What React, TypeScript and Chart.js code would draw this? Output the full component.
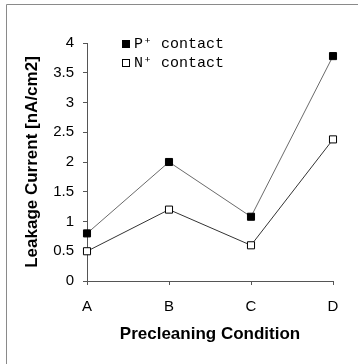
import React, { useEffect, useRef } from "react";
import { Chart, registerables } from "chart.js";

Chart.register(...registerables);

const categories = ["A", "B", "C", "D"];
const pContact = [0.8, 2.0, 1.08, 3.78];
const nContact = [0.5, 1.2, 0.6, 2.38];
const seriesLabels = ["P\u207A contact", "N\u207A contact"];
const yMin = 0;
const yMax = 4;
const yStep = 0.5;
const xTitle = "Precleaning Condition";
const yTitle = "Leakage Current [nA/cm2]";

const framePlugin = {
  id: "frame",
  beforeDraw(chart: any) {
    const ctx = chart.ctx;
    ctx.save();
    ctx.strokeStyle = "#8a8a8a";
    ctx.lineWidth = 1;
    ctx.beginPath();
    ctx.moveTo(6.5, 364);
    ctx.lineTo(6.5, 4.5);
    ctx.lineTo(358, 4.5);
    ctx.stroke();
    ctx.restore();
  },
};

const legendPlugin = {
  id: "insideLegend",
  afterDraw(chart: any) {
    const ctx = chart.ctx;
    ctx.save();
    ctx.font = "15px 'Liberation Mono', 'DejaVu Sans Mono', monospace";
    ctx.textBaseline = "middle";
    ctx.textAlign = "left";
    chart.data.datasets.forEach((ds: any, i: number) => {
      const cy = 44 + i * 19;
      ctx.fillStyle = ds.pointBackgroundColor;
      ctx.strokeStyle = "#000";
      ctx.lineWidth = 1;
      ctx.fillRect(122.5, cy - 3.5, 7, 7);
      ctx.strokeRect(122.5, cy - 3.5, 7, 7);
      ctx.fillStyle = "#000";
      ctx.fillText(ds.label, 134, cy);
    });
    ctx.restore();
  },
};

export default function App() {
  const ref = useRef<HTMLCanvasElement | null>(null);

  useEffect(() => {
    if (!ref.current) return;
    const chart = new Chart(ref.current, {
      type: "line",
      data: {
        labels: categories,
        datasets: [
          {
            label: seriesLabels[0],
            data: pContact,
            borderColor: "#6a6a6a",
            borderWidth: 1,
            pointStyle: "rect",
            pointRadius: 5,
            pointBorderWidth: 1,
            pointBackgroundColor: "#000",
            pointBorderColor: "#000",
            tension: 0,
          },
          {
            label: seriesLabels[1],
            data: nContact,
            borderColor: "#333",
            borderWidth: 1,
            pointStyle: "rect",
            pointRadius: 5,
            pointBorderWidth: 1,
            pointBackgroundColor: "#fff",
            pointBorderColor: "#000",
            tension: 0,
          },
        ],
      },
      options: {
        animation: false,
        responsive: false,
        maintainAspectRatio: false,
        layout: { padding: { top: 43, right: 25, left: 0, bottom: 0 } },
        plugins: {
          legend: { display: false },
          tooltip: { enabled: false },
        },
        scales: {
          x: {
            offset: false,
            grid: {
              drawOnChartArea: false,
              drawTicks: true,
              tickLength: 4,
              color: "#555",
            },
            border: { display: true, color: "#555" },
            ticks: {
              color: "#000",
              padding: 13,
              font: { family: "'Liberation Sans', Arial, sans-serif", size: 15 },
            },
            title: {
              display: true,
              text: xTitle,
              color: "#000",
              padding: { top: 0, bottom: 19 },
              font: { family: "'Liberation Sans', Arial, sans-serif", size: 17, weight: "bold" },
            },
            afterFit(scale: any) {
              scale.height = 83;
            },
          },
          y: {
            min: yMin,
            max: yMax,
            grid: {
              drawOnChartArea: false,
              drawTicks: true,
              tickLength: 4,
              color: "#555",
            },
            border: { display: true, color: "#555" },
            ticks: {
              stepSize: yStep,
              color: "#000",
              padding: 9,
              font: { family: "'Liberation Sans', Arial, sans-serif", size: 15 },
              callback: (v: any) => String(v),
            },
            title: {
              display: true,
              text: yTitle,
              color: "#000",
              padding: { top: 22, bottom: 0 },
              font: { family: "'Liberation Sans', Arial, sans-serif", size: 17, weight: "bold" },
            },
            afterFit(scale: any) {
              scale.width = 87;
            },
          },
        },
      },
      plugins: [framePlugin, legendPlugin],
    });
    return () => chart.destroy();
  }, []);

  return (
    <div style={{ position: "fixed", left: 0, top: 0, width: 358, height: 364, background: "#fff" }}>
      <canvas ref={ref} width={358} height={364} style={{ display: "block", width: 358, height: 364 }} />
    </div>
  );
}
